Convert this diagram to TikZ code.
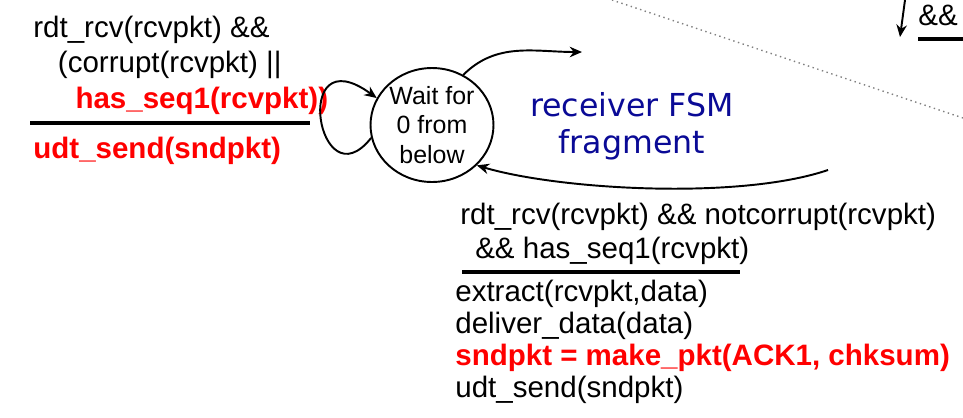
\documentclass[tikz,border=0pt]{standalone}
\usepackage{fontspec}
\setmainfont{Liberation Sans}
\newfontfamily\fsmfont{DejaVu Sans}
\usepackage{xcolor}
\usetikzlibrary{shapes.geometric,arrows.meta,positioning}
\definecolor{fsmblue}{RGB}{10,10,150}
\definecolor{hotred}{RGB}{255,0,0}

\begin{document}
\begin{tikzpicture}[x=0.02cm,y=-0.02cm,
  state/.style={ellipse,draw,line width=1.1pt,minimum width=2.46cm,
    minimum height=2.28cm,inner sep=0pt,align=center,
    font=\fontsize{14.2}{17}\selectfont},
  guardtxt/.style={anchor=base west,inner sep=0pt,align=left,
    font=\fontsize{16.8}{20.2}\selectfont},
  acttxt/.style={anchor=base west,inner sep=0pt,align=left,
    font=\fontsize{16.8}{18.2}\selectfont},
  redtxt/.style={text=hotred,font=\fontsize{16.8}{18.2}\selectfont\bfseries},
  arrow/.style={-{Stealth[length=7pt,width=6pt]},line width=1.1pt},
  bar/.style={line width=2.2pt}
]
\useasboundingbox (0,0) rectangle (963,417);

% state and title
\node[state] (wait) at (432,125) {Wait for\\0 from\\below};
\node[align=center,text=fsmblue,font=\fsmfont\fontsize{18}{21}\selectfont]
  (fsm) at (632,126) {receiver FSM\\fragment};

% self loop transition
\node[guardtxt] (g0) at (33,108) {rdt\_rcv(rcvpkt) \&\&\\
  \hspace*{14pt}(corrupt(rcvpkt) ||\\
  \hspace*{24pt}\textcolor{hotred}{\bfseries has\_seq1(rcvpkt))}};
\draw[bar] (30,123) -- (310,123);
\node[guardtxt,redtxt] (a0) at (33,158) {udt\_send(sndpkt)};

% transition to next state
\node[guardtxt,font=\fontsize{16.8}{18.8}\selectfont] (g1) at (460,258)
  {rdt\_rcv(rcvpkt) \&\& notcorrupt(rcvpkt)\\
  \hspace*{8.5pt}\&\& has\_seq1(rcvpkt)};
\draw[bar] (462,272) -- (740,272);
\node[acttxt] (a1) at (455,397) {extract(rcvpkt,data)\\
  deliver\_data(data)\\
  {\color{hotred}\bfseries sndpkt = make\_pkt(ACK1, chksum)}\\
  udt\_send(sndpkt)};

\coordinate (out0) at (582,52);
\coordinate (in0) at (828,170);
\draw[arrow] (wait.192) .. controls (318,205) and (290,35) .. (wait.154);
\draw[arrow] (wait.58) to[out=45,in=180] (out0);
\draw[arrow] (in0) .. controls (740,200) and (560,190) .. (wait.318);

% rest of the larger figure
\coordinate (dtop) at (612,0);
\coordinate (dend) at (963,118);
\draw[dotted,gray,line width=0.8pt] (dtop) -- (dend);
\coordinate (atop) at (905,0);
\coordinate (abot) at (900,37);
\draw[arrow] (atop) -- (abot);
\node[guardtxt] (g2) at (918,25) {\&\&};
\draw[bar] (918,39) -- (963,39);
\end{tikzpicture}
\end{document}
